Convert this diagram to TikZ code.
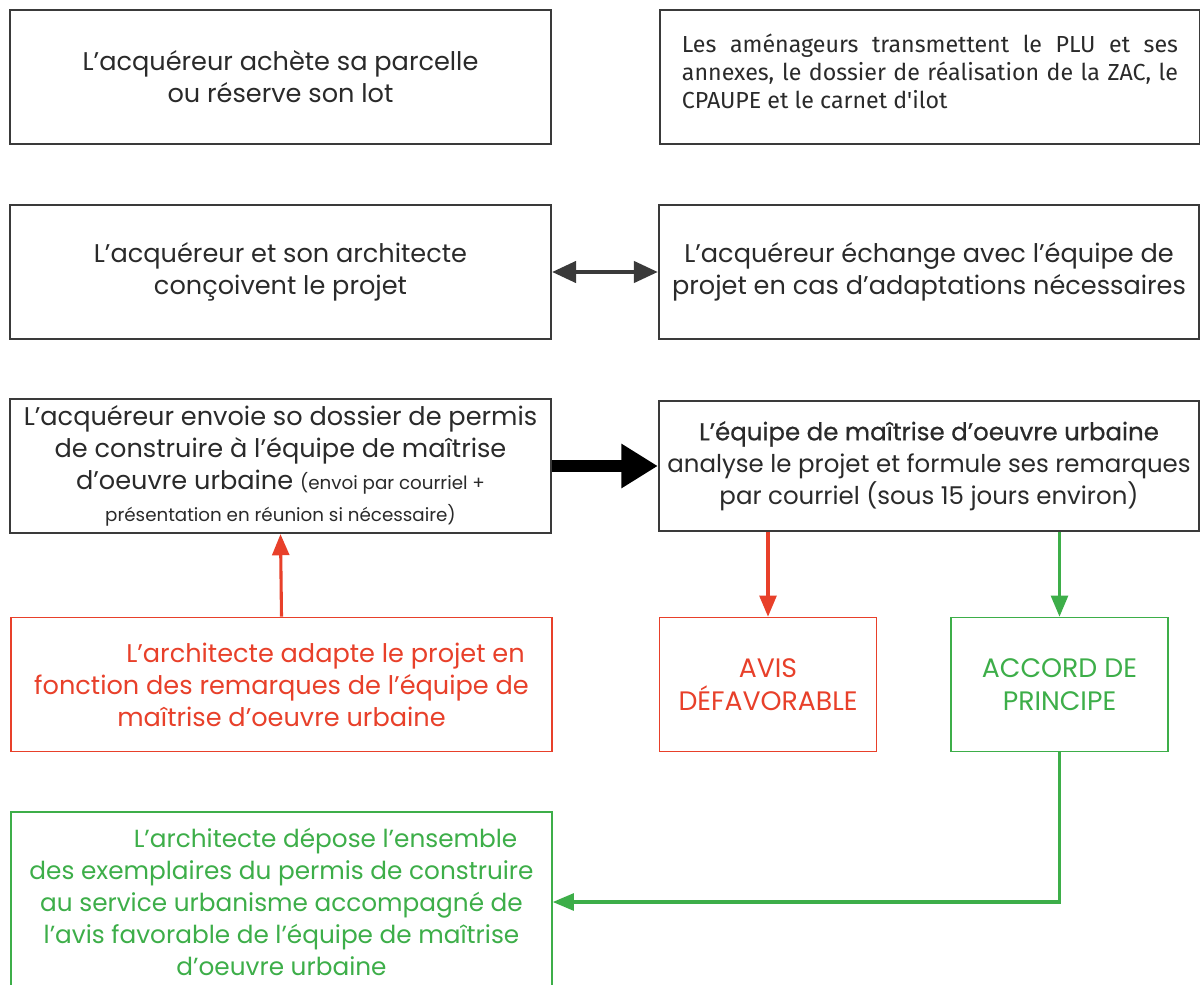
\documentclass[tikz,border=0pt]{standalone}
\usepackage{fontspec}
\setmainfont{Poppins}
\newfontfamily\dinfont{Fira Sans}
\newfontfamily\mediumfont[FakeBold=0.6,Ligatures=TeX]{Poppins}
\usetikzlibrary{arrows.meta}
\definecolor{avisred}{HTML}{E8402A}
\definecolor{accordgreen}{HTML}{3DAE49}
\definecolor{boxgray}{HTML}{3A3A3A}
\definecolor{textgray}{HTML}{2A2A2A}

\begin{document}
\begin{tikzpicture}[x=0.025cm,y=-0.025cm,
    etape/.style={draw=boxgray,line width=1.6pt,minimum width=13.52cm,minimum height=3.35cm,
      align=center,inner sep=0pt,text=textgray,font=\fontsize{18.2}{22.8}\selectfont},
    etaperouge/.style={etape,draw=avisred,line width=1.1pt,text=avisred},
    etapeverte/.style={etape,draw=accordgreen,line width=1.1pt,text=accordgreen},
    avisbox/.style={minimum width=5.42cm,font=\fontsize{19}{23.5}\selectfont},
    flecherouge/.style={avisred,line width=2.2pt,-{Triangle[length=15pt,width=12pt]}},
    flecheverte/.style={accordgreen,line width=2.2pt,-{Triangle[length=15pt,width=12pt]}}]
  \useasboundingbox (0,0) rectangle (1200,984);
  \fill[white] (0,0) rectangle (1200,984);
  % ligne 1
  \node[etape] (achat) at (280.5,77) {L'acquéreur achète sa parcelle\\ou réserve son lot};
  \node[etape,minimum width=13.5cm,text width=12.4cm,align=justify,
    font=\dinfont\fontsize{16.5}{20}\selectfont] (plu) at (930,77)
    {Les aménageurs transmettent le PLU et ses\linebreak annexes, le dossier de réalisation de la ZAC, le\linebreak CPAUPE et le carnet d'ilot\par\vspace{0.3cm}};
  % ligne 2
  \node[etape] (concoit) at (280.5,272) {L'acquéreur et son architecte\\conçoivent le projet};
  \node[etape,minimum width=13.5cm] (echange) at (929,272)
    {L'acquéreur échange avec l'équipe de\\projet en cas d'adaptations nécessaires};
  \draw[boxgray,line width=2.8pt,{Triangle[length=17pt,width=15pt]}-{Triangle[length=17pt,width=15pt]}]
    (concoit.east) -- (echange.west);
  % ligne 3
  \node[etape] (envoi) at (280.5,466)
    {L'acquéreur envoie so dossier de permis\\de construire à l'équipe de maîtrise\\
     d'oeuvre urbaine {\fontsize{13}{16}\selectfont(envoi par courriel +}\\
     {\fontsize{13}{16}\selectfont présentation en réunion si nécessaire)}};
  \node[etape,minimum width=13.5cm,minimum height=3.25cm,font=\fontsize{17.4}{22.8}\selectfont] (analyse) at (929,466)
    {{\mediumfont L'équipe de maîtrise d'oeuvre urbaine}\\analyse le projet et formule ses remarques\\par courriel (sous 15 jours environ)};
  \draw[black,line width=8pt,-{Triangle[length=26pt,width=30pt]}] (envoi.east) -- (analyse.west);
  % ligne 4
  \node[etaperouge] (adapte) at (281.5,684.5)
    {\hspace*{2.2cm}L'architecte adapte le projet en\\fonction des remarques de l'équipe de\\maîtrise d'oeuvre urbaine};
  \node[etaperouge,avisbox] (avis) at (768,684.5) {AVIS\\DÉFAVORABLE};
  \node[etapeverte,avisbox] (accord) at (1059.5,684.5) {ACCORD DE\\PRINCIPE};
  \draw[flecherouge] (adapte.north) -- (envoi.south);
  \draw[flecherouge] (analyse.south -| avis.north) -- (avis.north);
  \draw[flecheverte] (analyse.south -| accord.north) -- (accord.north);
  % ligne 5
  \node[etapeverte,minimum height=4.5cm,font=\fontsize{17.6}{22.8}\selectfont] (depot) at (281.5,902)
    {\hspace*{2.2cm}L'architecte dépose l'ensemble\\des exemplaires du permis de construire\\au service urbanisme accompagné de\\l'avis favorable de l'équipe de maîtrise\\d'oeuvre urbaine};
  \draw[flecheverte] (accord.south) |- (depot.east);
\end{tikzpicture}
\end{document}
